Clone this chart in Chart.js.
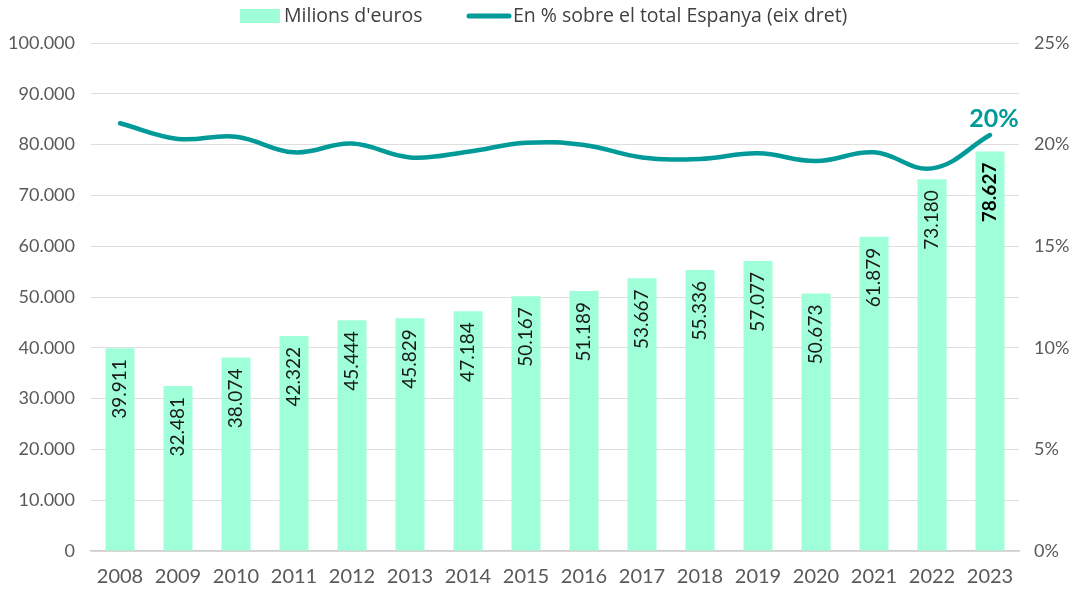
<!DOCTYPE html>
<html>
<head>
<meta charset="utf-8">
<script src="https://cdn.jsdelivr.net/npm/chart.js@4.4.0/dist/chart.umd.min.js"></script>
<style>
  html, body { margin: 0; padding: 0; background: #fff; }
  #wrap { width: 1070px; height: 589px; }
</style>
</head>
<body>
<div id="wrap"><canvas id="myChart" width="1070" height="589"></canvas></div>
<script>
var years = ['2008', '2009', '2010', '2011', '2012', '2013', '2014', '2015',
  '2016', '2017', '2018', '2019', '2020', '2021', '2022', '2023']
var milionsEuros = [39911, 32481, 38074, 42322, 45444, 45829, 47184, 50167,
  51189, 53667, 55336, 57077, 50673, 61879, 73180, 78627]
var pctEspanya = [21.05, 20.28, 20.39, 19.62, 20.05, 19.37, 19.65, 20.09,
  19.98, 19.37, 19.29, 19.57, 19.19, 19.62, 18.83, 20.47]
var legendLabels = ["Milions d'euros", 'En % sobre el total Espanya (eix dret)']
var lastLineLabel = '20%'

var FONT = 'Lato, "Noto Sans", sans-serif'
var LEGEND_FONT = '"Open Sans", Lato, sans-serif'
var MINT = '#9effd8'
var TEAL = '#009a98'

function fmt(n) {
  return String(Math.round(n)).replace(/\B(?=(\d{3})+(?!\d))/g, '.')
}

// value labels inside the bars + the last line label
var labelsPlugin = {
  id: 'labelsPlugin',
  afterDatasetsDraw(chart) {
    var ctx = chart.ctx
    var bars = chart.getDatasetMeta(0).data
    bars.forEach(function (bar, i) {
      var last = i === bars.length - 1
      ctx.save()
      ctx.translate(bar.x, bar.y + 11)
      ctx.rotate(-Math.PI / 2)
      ctx.textAlign = 'right'
      ctx.textBaseline = 'middle'
      ctx.fillStyle = last ? '#000' : '#1a1a1a'
      ctx.font = (last ? 'bold ' : '') + '19px ' + FONT
      ctx.fillText(fmt(milionsEuros[i]), 0, 0)
      ctx.restore()
    })
    var pts = chart.getDatasetMeta(1).data
    var p = pts[pts.length - 1]
    ctx.save()
    ctx.font = 'bold 25px ' + FONT
    ctx.fillStyle = TEAL
    ctx.textAlign = 'center'
    ctx.textBaseline = 'alphabetic'
    ctx.fillText(lastLineLabel, p.x + 4, p.y - 8)
    ctx.restore()
  }
}

// legend drawn by hand (box + thick line)
var legendPlugin = {
  id: 'legendPlugin',
  afterDraw(chart) {
    var ctx = chart.ctx
    ctx.save()
    ctx.font = '19.5px ' + LEGEND_FONT
    ctx.textBaseline = 'middle'
    ctx.fillStyle = MINT
    ctx.fillRect(240, 9, 40, 14)
    ctx.fillStyle = '#404040'
    ctx.fillText(legendLabels[0], 284, 16)
    ctx.strokeStyle = TEAL
    ctx.lineWidth = 5
    ctx.lineCap = 'round'
    ctx.beginPath()
    ctx.moveTo(469, 16)
    ctx.lineTo(509, 16)
    ctx.stroke()
    ctx.fillText(legendLabels[1], 513, 16)
    ctx.restore()
  }
}

var chart = new Chart(document.getElementById('myChart'), {
  type: 'bar',
  data: {
    labels: years,
    datasets: [{
      type: 'bar',
      label: legendLabels[0],
      data: milionsEuros,
      backgroundColor: MINT,
      barPercentage: 0.5,
      categoryPercentage: 1,
      yAxisID: 'y',
      order: 2
    }, {
      type: 'line',
      label: legendLabels[1],
      data: pctEspanya,
      borderColor: TEAL,
      borderWidth: 4.5,
      borderCapStyle: 'round',
      pointRadius: 0,
      tension: 0.4,
      fill: false,
      yAxisID: 'y1',
      order: 1
    }]
  },
  options: {
    responsive: false,
    animation: false,
    devicePixelRatio: 1,
    layout: { padding: { top: 43, left: 0, right: 0, bottom: 0 } },
    plugins: {
      legend: { display: false },
      tooltip: { enabled: false }
    },
    scales: {
      x: {
        grid: { display: false, drawTicks: false },
        border: { display: true, color: '#d0d0d0', width: 1.5 },
        ticks: { color: '#595959', font: { family: FONT, size: 20 }, padding: 14, maxRotation: 0 },
        afterFit(scale) { scale.height = 38 }
      },
      y: {
        position: 'left',
        min: 0,
        max: 100000,
        grid: { color: '#dedede', lineWidth: 1, drawTicks: false },
        border: { display: false },
        ticks: {
          stepSize: 10000,
          color: '#595959',
          font: { family: FONT, size: 18 },
          padding: 16,
          callback: function (v) { return fmt(v) }
        },
        afterFit(scale) { scale.width = 91 }
      },
      y1: {
        position: 'right',
        min: 0,
        max: 25,
        grid: { display: false, drawTicks: false },
        border: { display: false },
        ticks: {
          stepSize: 5,
          color: '#595959',
          font: { family: FONT, size: 18 },
          padding: 15,
          callback: function (v) { return v + '%' }
        },
        afterFit(scale) { scale.width = 51 }
      }
    }
  },
  plugins: [labelsPlugin, legendPlugin]
})
</script>
</body>
</html>
